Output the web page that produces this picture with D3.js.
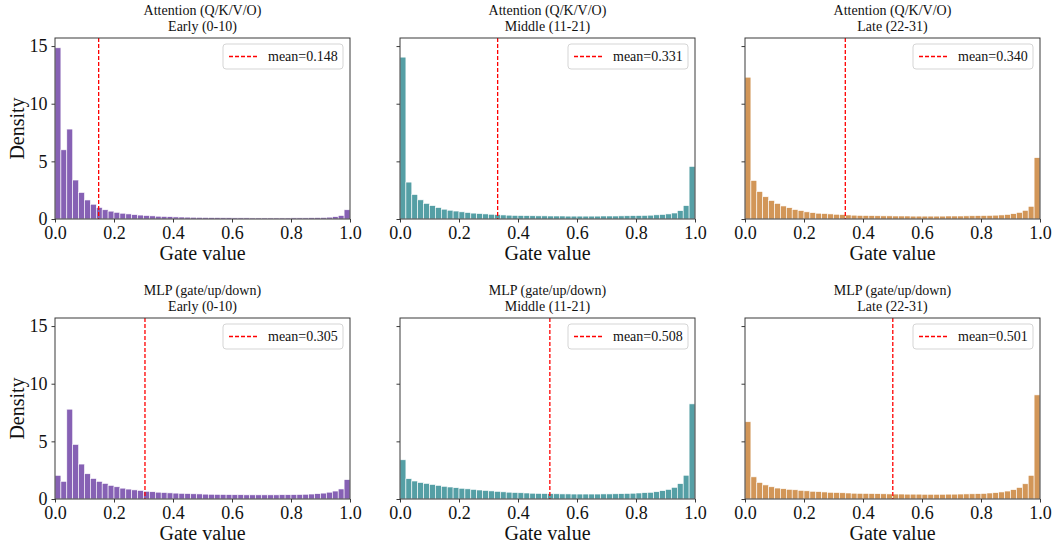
<!DOCTYPE html>
<html>
<head>
<meta charset="utf-8">
<script src="https://cdn.jsdelivr.net/npm/d3@7"></script>
<style>
  body { margin: 0; background: #fff; }
  svg text { font-family: "Liberation Serif", "DejaVu Serif", serif !important; }
</style>
</head>
<body>
<svg id="chart" width="1052" height="546"></svg>
<script>
// ---------- data ----------
const binEdges = d3.range(0, 51).map(i => i / 50);   // 50 bins of width 0.02
const xTicks = [0, 0.2, 0.4, 0.6, 0.8, 1.0];
const yTicks = [0, 5, 10, 15];

const groups = ["Attention (Q/K/V/O)", "MLP (gate/up/down)"];
const stages = ["Early (0-10)", "Middle (11-21)", "Late (22-31)"];
const stageColors = ["#8058b0", "#4c9aa0", "#d0904f"];

const attnEarly = [14.85, 6.0, 7.8, 3.38, 2.3, 1.65, 1.28, 1.0, 0.8, 0.68, 0.58, 0.5, 0.44, 0.38, 0.34, 0.3, 0.27, 0.24, 0.22, 0.2, 0.18, 0.17, 0.16, 0.15, 0.14, 0.13, 0.12, 0.12, 0.11, 0.11, 0.1, 0.1, 0.1, 0.09, 0.09, 0.09, 0.09, 0.09, 0.09, 0.09, 0.1, 0.1, 0.1, 0.11, 0.12, 0.13, 0.16, 0.2, 0.3, 0.8];
const attnMiddle = [14.04, 3.2, 2.12, 1.66, 1.35, 1.16, 0.99, 0.85, 0.76, 0.69, 0.62, 0.56, 0.51, 0.47, 0.44, 0.41, 0.38, 0.35, 0.33, 0.31, 0.3, 0.29, 0.28, 0.27, 0.27, 0.26, 0.26, 0.26, 0.25, 0.25, 0.25, 0.25, 0.25, 0.25, 0.26, 0.26, 0.26, 0.27, 0.28, 0.29, 0.3, 0.31, 0.33, 0.36, 0.39, 0.44, 0.52, 0.72, 1.16, 4.56];
const attnLate = [12.3, 3.34, 2.38, 1.93, 1.6, 1.35, 1.13, 0.98, 0.82, 0.73, 0.62, 0.55, 0.5, 0.47, 0.44, 0.41, 0.38, 0.35, 0.33, 0.31, 0.3, 0.29, 0.28, 0.27, 0.27, 0.26, 0.26, 0.26, 0.25, 0.25, 0.25, 0.25, 0.25, 0.25, 0.26, 0.26, 0.26, 0.27, 0.28, 0.29, 0.3, 0.31, 0.33, 0.35, 0.39, 0.46, 0.57, 0.75, 1.1, 5.32];
const mlpEarly = [2.05, 1.53, 7.79, 4.73, 3.03, 2.19, 1.78, 1.53, 1.35, 1.18, 1.06, 0.94, 0.86, 0.79, 0.74, 0.67, 0.63, 0.59, 0.56, 0.53, 0.51, 0.49, 0.47, 0.45, 0.44, 0.42, 0.41, 0.4, 0.39, 0.38, 0.37, 0.37, 0.36, 0.36, 0.36, 0.36, 0.36, 0.36, 0.37, 0.37, 0.38, 0.39, 0.41, 0.43, 0.46, 0.51, 0.59, 0.69, 0.87, 1.68];
const mlpMiddle = [3.4, 1.76, 1.56, 1.43, 1.35, 1.26, 1.18, 1.1, 1.04, 0.98, 0.93, 0.88, 0.83, 0.78, 0.74, 0.7, 0.66, 0.62, 0.59, 0.56, 0.54, 0.52, 0.5, 0.48, 0.47, 0.46, 0.45, 0.44, 0.44, 0.43, 0.43, 0.43, 0.43, 0.43, 0.44, 0.44, 0.45, 0.46, 0.48, 0.5, 0.52, 0.55, 0.58, 0.63, 0.72, 0.83, 1.01, 1.33, 2.06, 8.25];
const mlpLate = [6.7, 1.92, 1.43, 1.22, 1.06, 0.95, 0.89, 0.84, 0.8, 0.75, 0.71, 0.67, 0.64, 0.61, 0.58, 0.56, 0.54, 0.52, 0.5, 0.49, 0.48, 0.47, 0.46, 0.45, 0.44, 0.43, 0.43, 0.42, 0.42, 0.42, 0.41, 0.41, 0.41, 0.41, 0.42, 0.42, 0.43, 0.44, 0.45, 0.46, 0.48, 0.52, 0.55, 0.61, 0.69, 0.81, 1.0, 1.32, 2.05, 9.03];

const means = [[0.148, 0.331, 0.340], [0.305, 0.508, 0.501]];
const densities = [[attnEarly, attnMiddle, attnLate], [mlpEarly, mlpMiddle, mlpLate]];

// ---------- layout ----------
const colX = [55, 400, 745];
const rowY = [38, 318];
const pw = 295, ph = 181;
const yMax = 15.7;

const svg = d3.select("#chart");

groups.forEach((grp, r) => {
  stages.forEach((stg, c) => {
    const g = svg.append("g").attr("transform", `translate(${colX[c]},${rowY[r]})`);
    const x = d3.scaleLinear().domain([0, 1]).range([0, pw]);
    const y = d3.scaleLinear().domain([0, yMax]).range([ph, 0]);
    const vals = densities[r][c];

    // bars
    g.selectAll("rect.bar").data(vals).enter().append("rect")
      .attr("class", "bar")
      .attr("x", (d, i) => x(binEdges[i]))
      .attr("width", (d, i) => x(binEdges[i + 1]) - x(binEdges[i]))
      .attr("y", d => y(d))
      .attr("height", d => y(0) - y(d))
      .attr("fill", stageColors[c])
      .attr("fill-opacity", 0.95)
      .attr("stroke", "#fff")
      .attr("stroke-width", 0.6);

    // mean line
    g.append("line")
      .attr("x1", x(means[r][c])).attr("x2", x(means[r][c]))
      .attr("y1", 0).attr("y2", ph)
      .attr("stroke", "#ff0000").attr("stroke-width", 1.3)
      .attr("stroke-dasharray", "4,2");

    // spines
    g.append("rect").attr("x", 0).attr("y", 0).attr("width", pw).attr("height", ph)
      .attr("fill", "none").attr("stroke", "#3a3a3a").attr("stroke-width", 1);

    // x axis
    const xa = g.append("g").attr("transform", `translate(0,${ph})`)
      .call(d3.axisBottom(x).tickValues(xTicks).tickFormat(d3.format(".1f")).tickSize(3.5).tickPadding(4));
    xa.select(".domain").remove();
    xa.selectAll("line").attr("stroke", "#3a3a3a");
    xa.selectAll("text").attr("font-size", 18).attr("fill", "#111");

    // y axis
    const ya = g.append("g")
      .call(d3.axisLeft(y).tickValues(yTicks).tickFormat(c === 0 ? d3.format("d") : () => "").tickSize(3.5).tickPadding(4));
    ya.select(".domain").remove();
    ya.selectAll("line").attr("stroke", "#3a3a3a");
    ya.selectAll("text").attr("font-size", 18).attr("fill", "#111");

    // titles
    g.append("text").attr("x", pw / 2).attr("y", -23).attr("text-anchor", "middle")
      .attr("font-size", 14).attr("fill", "#111").text(grp);
    g.append("text").attr("x", pw / 2).attr("y", -7).attr("text-anchor", "middle")
      .attr("font-size", 14).attr("fill", "#111").text(stg);

    // x label
    g.append("text").attr("x", pw / 2).attr("y", ph + 41).attr("text-anchor", "middle")
      .attr("font-size", 20).attr("fill", "#111").text("Gate value");

    // y label
    if (c === 0) {
      g.append("text").attr("transform", `translate(-31,${ph / 2}) rotate(-90)`)
        .attr("text-anchor", "middle").attr("font-size", 20).attr("fill", "#111").text("Density");
    }

    // legend
    const lw = 120, lh = 25;
    const lg = g.append("g").attr("transform", `translate(${pw - 7 - lw},6)`);
    lg.append("rect").attr("width", lw).attr("height", lh).attr("rx", 3)
      .attr("fill", "#fff").attr("fill-opacity", 0.8).attr("stroke", "#d5d5d5").attr("stroke-width", 1);
    lg.append("line").attr("x1", 6).attr("x2", 34).attr("y1", lh / 2).attr("y2", lh / 2)
      .attr("stroke", "#ff0000").attr("stroke-width", 1.3).attr("stroke-dasharray", "4,2");
    lg.append("text").attr("x", 45).attr("y", lh / 2 + 4.5).attr("font-size", 14).attr("fill", "#111")
      .text(`mean=${means[r][c].toFixed(3)}`);
  });
});
</script>
</body>
</html>
